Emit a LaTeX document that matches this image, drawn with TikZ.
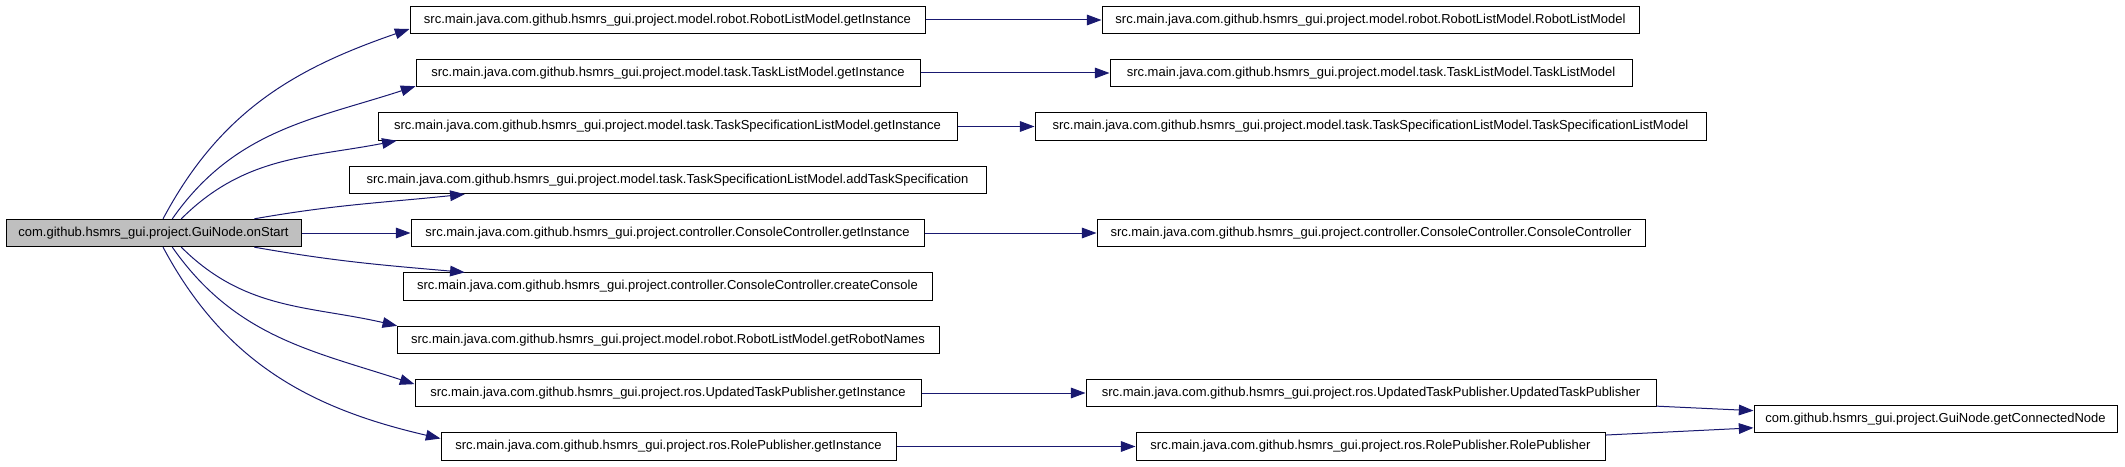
\documentclass[tikz,border=0pt]{standalone}
\usepackage{fontspec}
\setmainfont{Liberation Sans}
\usetikzlibrary{arrows.meta}
\definecolor{callblue}{HTML}{191970}
\definecolor{rootgrey}{HTML}{BFBFBF}
\begin{document}
\begin{tikzpicture}[x=0.75pt,y=0.75pt,
    fn/.style={draw,line width=0.75pt,fill=white,inner xsep=4pt,inner ysep=0pt,
      minimum height=20.5pt,font=\fontsize{9.75}{11}\selectfont},
    root/.style={fn,fill=rootgrey},
    wd/.style={minimum width=#1*0.75pt},
    call/.style={draw=callblue,line width=0.75pt,-{Triangle[length=11pt,width=8pt]}}]
      \useasboundingbox (0,0) rectangle (2125,-467);
      \draw
        (153.5,-233) node[root,wd=295] (0){com.github.hsmrs\_gui.project.GuiNode.onStart}
        (667.5,-20) node[fn,wd=515] (1){src.main.java.com.github.hsmrs\_gui.project.model.robot.RobotListModel.getInstance}
        (668,-73) node[fn,wd=504] (2){src.main.java.com.github.hsmrs\_gui.project.model.task.TaskListModel.getInstance}
        (667.5,-126.5) node[fn,wd=579] (3){src.main.java.com.github.hsmrs\_gui.project.model.task.TaskSpecificationListModel.getInstance}
        (667.5,-180) node[fn,wd=637] (4){src.main.java.com.github.hsmrs\_gui.project.model.task.TaskSpecificationListModel.addTaskSpecification}
        (667.5,-233) node[fn,wd=513] (5){src.main.java.com.github.hsmrs\_gui.project.controller.ConsoleController.getInstance}
        (667.5,-286.5) node[fn,wd=529] (6){src.main.java.com.github.hsmrs\_gui.project.controller.ConsoleController.createConsole}
        (668,-340) node[fn,wd=542] (7){src.main.java.com.github.hsmrs\_gui.project.model.robot.RobotListModel.getRobotNames}
        (668,-393) node[fn,wd=506] (8){src.main.java.com.github.hsmrs\_gui.project.ros.UpdatedTaskPublisher.getInstance}
        (668.5,-446.5) node[fn,wd=455] (9){src.main.java.com.github.hsmrs\_gui.project.ros.RolePublisher.getInstance}
        (1370.5,-20) node[fn,wd=537] (11){src.main.java.com.github.hsmrs\_gui.project.model.robot.RobotListModel.RobotListModel}
        (1371,-73) node[fn,wd=522] (12){src.main.java.com.github.hsmrs\_gui.project.model.task.TaskListModel.TaskListModel}
        (1370.5,-126.5) node[fn,wd=671] (13){src.main.java.com.github.hsmrs\_gui.project.model.task.TaskSpecificationListModel.TaskSpecificationListModel}
        (1371,-233) node[fn,wd=548] (15){src.main.java.com.github.hsmrs\_gui.project.controller.ConsoleController.ConsoleController}
        (1371,-393) node[fn,wd=570] (18){src.main.java.com.github.hsmrs\_gui.project.ros.UpdatedTaskPublisher.UpdatedTaskPublisher}
        (1370.5,-446.5) node[fn,wd=469] (19){src.main.java.com.github.hsmrs\_gui.project.ros.RolePublisher.RolePublisher}
        (1935.5,-419) node[fn,wd=363] (20){com.github.hsmrs\_gui.project.GuiNode.getConnectedNode};
      \begin{scope}[call]
        \draw (0.56) to[out=62,in=199] (1.182);
        \draw (0.37) to[out=55,in=198] (2.183);
        \draw (0.27) to[out=45,in=191] (3.183);
        \draw (0.8) to[out=10,in=186] (4.184);
        \draw (0) to (5);
        \draw (0.352) to[out=350,in=175] (6.176);
        \draw (0.333) to[out=315,in=167] (7.177);
        \draw (0.323) to[out=305,in=162] (8.178);
        \draw (0.304) to[out=298,in=167] (9.178);
        \draw (1) to (11);
        \draw (2) to (12);
        \draw (3) to (13);
        \draw (5) to (15);
        \draw (8) to (18);
        \draw (9) to (19);
        \draw (18) to (20);
        \draw (19) to (20);
      \end{scope}
    \end{tikzpicture}
\end{document}
